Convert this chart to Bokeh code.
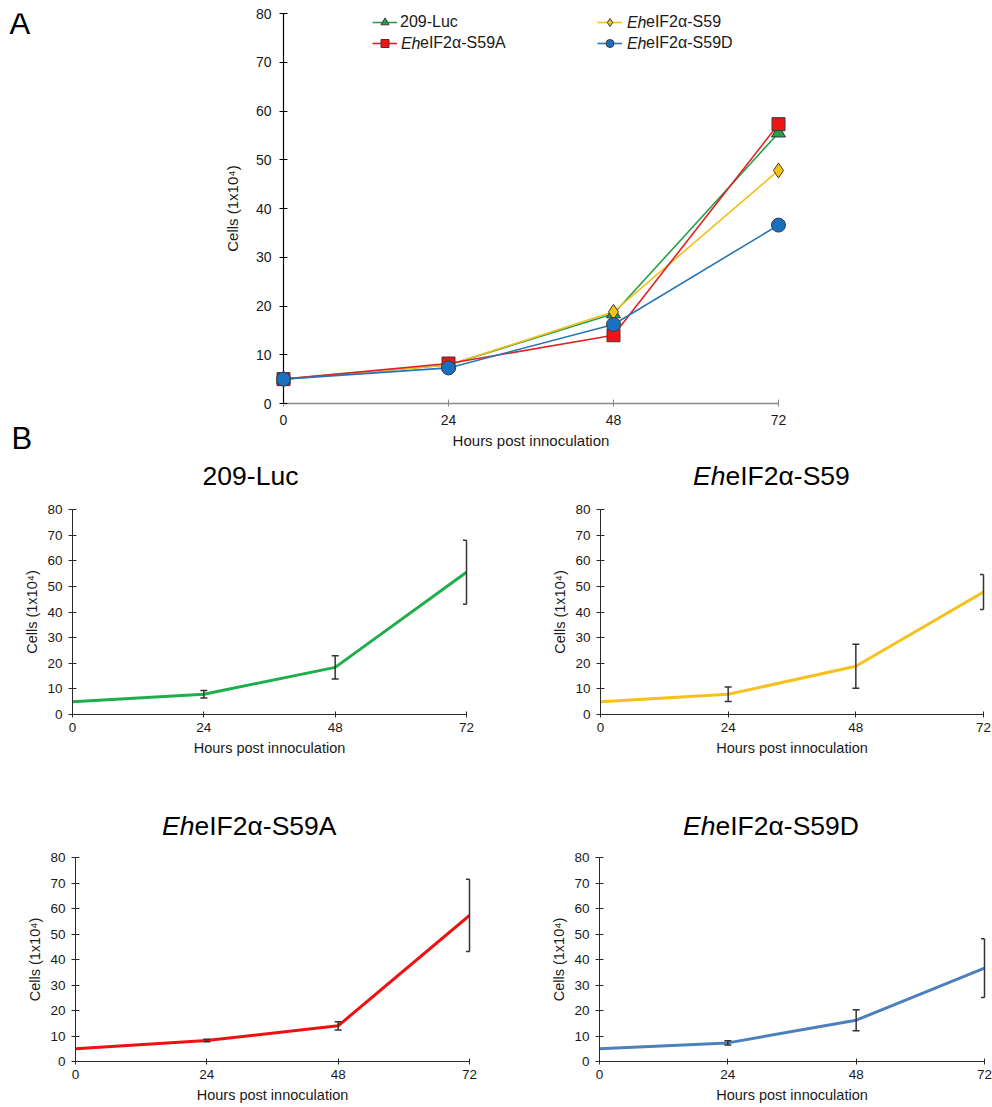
from bokeh.plotting import figure
from bokeh.models import Range1d, Label, Legend, LegendItem
from bokeh.layouts import column, row
from bokeh.embed import file_html
from bokeh.resources import INLINE

# ---------------- data ----------------
hours = [0, 24, 48, 72]
x_ticks = [0, 24, 48, 72]
y_ticks = [0, 10, 20, 30, 40, 50, 60, 70, 80]

luc_mean = [5.0, 7.9, 18.4, 55.5]
s59_mean = [5.0, 7.9, 18.8, 47.8]
s59a_mean = [5.0, 8.2, 14.0, 57.3]
s59d_mean = [5.0, 7.3, 16.2, 36.6]

luc_sd = [0.0, 1.5, 4.5, 12.5]
s59_sd = [0.0, 2.8, 8.6, 6.8]
s59a_sd = [0.0, 0.5, 1.6, 14.2]
s59d_sd = [0.0, 0.8, 4.1, 11.5]

name_luc = "209-Luc"
name_prefix = "Eh"
name_s59 = "eIF2α-S59"
name_s59a = "eIF2α-S59A"
name_s59d = "eIF2α-S59D"

x_label = "Hours post innoculation"
y_label = "Cells (1x10⁴)"

FONT = "Liberation Sans"
TXT = "#1a1a1a"


def style(p, tick_size, label_size, xcol, ycol, x_in, x_out, y_in, y_out,
          x_std, y_std, x_lstd, y_lstd):
    p.grid.visible = False
    p.outline_line_color = None
    p.xaxis.ticker = x_ticks
    p.yaxis.ticker = y_ticks
    p.xaxis.axis_label = x_label
    p.yaxis.axis_label = y_label
    for ax, col, tin, tout, std, lstd in ((p.xaxis, xcol, x_in, x_out, x_std, x_lstd),
                                          (p.yaxis, ycol, y_in, y_out, y_std, y_lstd)):
        ax.axis_line_color = col
        ax.major_tick_line_color = col
        ax.minor_tick_line_color = None
        ax.major_tick_in = tin
        ax.major_tick_out = tout
        ax.major_label_standoff = std
        ax.axis_label_standoff = lstd
        ax.major_label_text_font = FONT
        ax.major_label_text_font_size = tick_size
        ax.major_label_text_color = TXT
        ax.axis_label_text_font = FONT
        ax.axis_label_text_font_size = label_size
        ax.axis_label_text_font_style = "normal"
        ax.axis_label_text_color = TXT


def blank(w, h, y_top, y_bottom, x_left=0):
    """Axis-less figure whose data coordinates equal page pixel coordinates."""
    f = figure(title=None, frame_width=w, frame_height=h, x_range=Range1d(x_left, x_left + w),
               y_range=Range1d(y_bottom, y_top), output_backend="svg",
               toolbar_location=None, x_axis_location=None, y_axis_location=None,
               min_border=0, min_border_left=0, min_border_right=0,
               min_border_top=0, min_border_bottom=0)
    f.grid.visible = False
    f.outline_line_color = None
    return f


def add_text(f, x, y, text, size, align, italic=False):
    f.add_layout(Label(x=x, y=y, text=text, text_align=align, text_baseline="middle",
                       text_font=FONT, text_font_size=size,
                       text_font_style="italic" if italic else "normal",
                       text_color="#000000"))


# ---------------- panel letters ----------------
letters = blank(40, 460, 0, 460)
add_text(letters, 9, 10, "A", "31px", "left")
add_text(letters, 11, 425, "B", "31px", "left")

# ---------------- panel A ----------------
pA = figure(title=None, width=952, height=460, x_range=Range1d(0, 72), y_range=Range1d(0, 80),
            output_backend="svg", toolbar_location=None,
            min_border_left=243, min_border_right=214, min_border_top=13, min_border_bottom=57)
style(pA, "14px", "15px", "#8a8a8a", "#000000", 4, 3, 4, 4, 8, 8, 4, 12)
pA.xaxis.axis_line_width = 1.5
pA.yaxis.axis_line_width = 1.2

seriesA = [
    (luc_mean, "#22a04b", "triangle", 14, "#1fa34a"),
    (s59_mean, "#f2c01e", "diamond", 15, "#f6c312"),
    (s59a_mean, "#e32124", "square", 13, "#f01414"),
    (s59d_mean, "#2476b8", "circle", 14, "#1a70c0"),
]
rendA = []
for vals, lc, mk, sz, fc in seriesA:
    lr = pA.line(hours, vals, line_color=lc, line_width=1.6)
    sr = pA.scatter(hours, vals, marker=mk, size=sz, fill_color=fc,
                    line_color="#3a3a3a", line_width=1, level="overlay")
    rendA.append((lr, sr))

fbA = 403  # page y of frame bottom
flA = 283  # page x of frame left
legend_specs = [
    (rendA[0], name_luc, 372, 21.7, 3, None),
    (rendA[2], name_s59a, 372, 42.7, 23, 420),
    (rendA[1], name_s59, 597, 21.7, 24, 646),
    (rendA[3], name_s59d, 597, 42.7, 24, 646),
]
for (lr, sr), lab, gx, cy, stand, eh_right in legend_specs:
    leg = Legend(items=[LegendItem(label=lab, renderers=[lr, sr])],
                 location=(gx - flA, fbA - (cy + 10)),
                 glyph_width=25, glyph_height=20, label_height=20,
                 label_standoff=stand, padding=0, margin=0, spacing=0,
                 border_line_color=None, background_fill_alpha=0,
                 label_text_font=FONT, label_text_font_size="16px",
                 label_text_color=TXT)
    pA.add_layout(leg)
    if eh_right is not None:
        pA.add_layout(Label(x=eh_right - flA, y=fbA - cy, x_units="screen", y_units="screen",
                            text=name_prefix, text_align="right", text_baseline="middle",
                            text_font=FONT, text_font_size="16px", text_font_style="italic",
                            text_color=TXT))


# ---------------- panel B ----------------
def panel_b(vals, sd, color, fig_w, bl, br, bt, fh, bb, lstd):
    p = figure(title=None, width=fig_w, height=bt + fh + bb, x_range=Range1d(0, 72),
               y_range=Range1d(0, 80), output_backend="svg", toolbar_location=None,
               min_border_left=bl, min_border_right=br, min_border_top=bt, min_border_bottom=bb)
    style(p, "13.5px", "14.5px", "#2a2a2a", "#2a2a2a", 3, 3, 4, 4, 5, 6, lstd, 4)
    p.line(hours, vals, line_color=color, line_width=3)
    idx = [i for i in range(len(hours)) if sd[i] > 0]
    xs = [hours[i] for i in idx]
    up = [vals[i] + sd[i] for i in idx]
    lo = [vals[i] - sd[i] for i in idx]
    p.segment(xs, lo, xs, up, line_color="#333333", line_width=1.5, level="overlay")
    p.scatter(xs, up, marker="dash", size=7, line_color="#333333", line_width=1.5)
    p.scatter(xs, lo, marker="dash", size=7, line_color="#333333", line_width=1.5)
    return p


# titles of row 1 (page y 460..500)
head1 = blank(992, 40, 460, 500)
add_text(head1, 250, 475, name_luc, "26.5px", "center")
add_text(head1, 725, 475, name_prefix, "26.5px", "right", italic=True)
add_text(head1, 725, 475, name_s59, "26.5px", "left")

b1 = panel_b(luc_mean, luc_sd, "#1eae4b", 496, 72, 30, 9, 205, 51, 5)
b2 = panel_b(s59_mean, s59_sd, "#f6c11c", 496, 104, 9, 9, 205, 51, 5)

# titles of row 2 (page y 765..845)
head2 = blank(992, 80, 765, 845)
add_text(head2, 194, 825, name_prefix, "26.5px", "right", italic=True)
add_text(head2, 194, 825, name_s59a, "26.5px", "left")
add_text(head2, 715, 825, name_prefix, "26.5px", "right", italic=True)
add_text(head2, 715, 825, name_s59d, "26.5px", "left")

b3 = panel_b(s59a_mean, s59a_sd, "#f01010", 496, 75, 27, 12, 204, 46, 5)
b4 = panel_b(s59d_mean, s59d_sd, "#4b80bd", 496, 103, 8, 12, 204, 46, 5)

layout = column(row(letters, pA), head1, row(b1, b2), head2, row(b3, b4))
open("out.html", "w").write(file_html(layout, INLINE))
